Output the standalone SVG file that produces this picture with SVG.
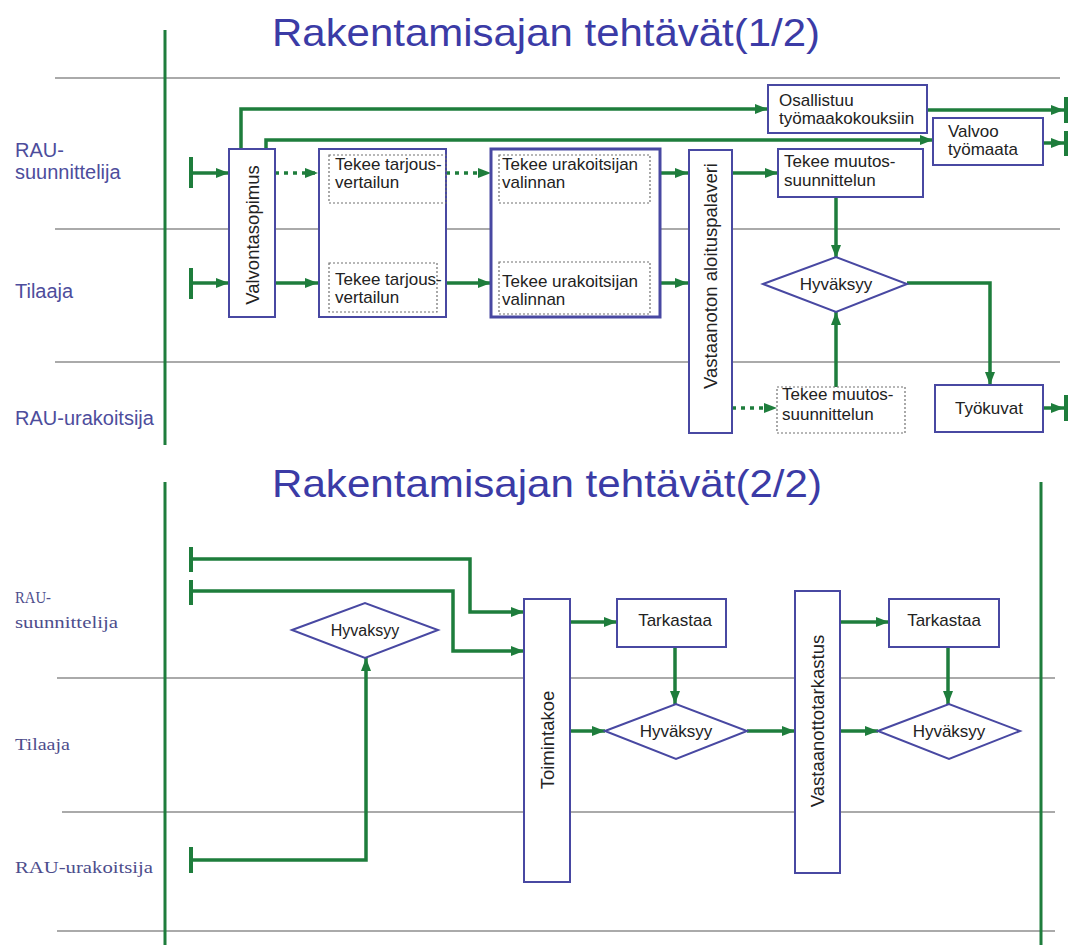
<svg xmlns="http://www.w3.org/2000/svg" width="1070" height="945" viewBox="0 0 1070 945">
<defs>
<marker id="ah" markerUnits="userSpaceOnUse" markerWidth="13" markerHeight="11" refX="13" refY="5.5" orient="auto">
<path d="M0,0.5 L13,5.5 L0,10.5 z" fill="#1e7d3c"/>
</marker>
<style>
.title{font-family:"Liberation Sans",Arial,sans-serif;font-size:39px;fill:#3b3ba6}
.lane{stroke:#8e8e8e;stroke-width:1.6;fill:none}
.vl{stroke:#1e7d3c;stroke-width:3;fill:none}
.lbl{font-family:"Liberation Sans",Arial,sans-serif;font-size:20px;fill:#4d4d9c}
.lbls{font-family:"Liberation Serif","Times New Roman",serif;font-size:17px;fill:#4d4d8c}
.c{stroke:#1e7d3c;stroke-width:3.5;fill:none}
.ca{stroke:#1e7d3c;stroke-width:3.5;fill:none;marker-end:url(#ah)}
.cd{stroke:#1e7d3c;stroke-width:3.5;fill:none;stroke-dasharray:4 5;marker-end:url(#ah)}
.bar{stroke:#1e7d3c;stroke-width:4;fill:none}
.box{fill:#fff;stroke:#4848a2;stroke-width:2}
.boxb{fill:#fff;stroke:#4848a2;stroke-width:3}
.inner{fill:none;stroke:#707070;stroke-width:1.2;stroke-dasharray:2 2}
.t{font-family:"Liberation Sans",Arial,sans-serif;font-size:17px;fill:#222}
.tv{font-family:"Liberation Sans",Arial,sans-serif;font-size:18.5px;fill:#222;text-anchor:middle}
.tm{font-family:"Liberation Sans",Arial,sans-serif;font-size:17px;fill:#222;text-anchor:middle}
</style>
</defs>
<rect width="1070" height="945" fill="#fff"/>

<g id="titles">
<text class="title" x="272" y="46" textLength="548" lengthAdjust="spacingAndGlyphs">Rakentamisajan tehtävät(1/2)</text>
<text class="title" x="272" y="497" textLength="550" lengthAdjust="spacingAndGlyphs">Rakentamisajan tehtävät(2/2)</text>
</g>

<g id="lanes">
<line class="lane" x1="55" y1="78" x2="1060" y2="78"/>
<line class="lane" x1="55" y1="229" x2="1060" y2="229"/>
<line class="lane" x1="55" y1="362" x2="1060" y2="362"/>
<line class="lane" x1="57" y1="678" x2="1055" y2="678"/>
<line class="lane" x1="62" y1="812" x2="1055" y2="812"/>
<line class="lane" x1="57" y1="931" x2="1055" y2="931"/>
<line class="vl" x1="165" y1="30" x2="165" y2="445"/>
<line class="vl" x1="165" y1="482" x2="165" y2="945"/>
<line class="vl" x1="1041" y1="482" x2="1041" y2="945"/>
</g>

<g id="lane-labels">
<text class="lbl" x="15" y="157">RAU-</text>
<text class="lbl" x="15" y="179">suunnittelija</text>
<text class="lbl" x="15" y="298">Tilaaja</text>
<text class="lbl" x="15" y="425">RAU-urakoitsija</text>
<text class="lbls" x="15" y="603" textLength="36" lengthAdjust="spacingAndGlyphs">RAU-</text>
<text class="lbls" x="15" y="628" textLength="103" lengthAdjust="spacingAndGlyphs">suunnittelija</text>
<text class="lbls" x="15" y="750" textLength="55" lengthAdjust="spacingAndGlyphs">Tilaaja</text>
<text class="lbls" x="15" y="873" textLength="138" lengthAdjust="spacingAndGlyphs">RAU-urakoitsija</text>
</g>

<g id="connectors">
<line class="bar" x1="191" y1="157" x2="191" y2="188"/>
<path class="ca" d="M191,173 H229"/>
<line class="bar" x1="191" y1="268" x2="191" y2="299"/>
<path class="ca" d="M191,283 H229"/>
<path class="ca" d="M241,149 V109 H768"/>
<path class="ca" d="M266,149 V140 H933"/>
<path class="ca" d="M927,110 H1064"/>
<line class="bar" x1="1066" y1="97" x2="1066" y2="123"/>
<path class="ca" d="M1043,143 H1064"/>
<line class="bar" x1="1066" y1="131" x2="1066" y2="156"/>
<path class="cd" d="M275,173 H318"/>
<path class="ca" d="M275,283 H318"/>
<path class="cd" d="M446,173 H491"/>
<path class="ca" d="M437,283 H491"/>
<path class="ca" d="M660,173 H688"/>
<path class="ca" d="M660,283 H688"/>
<path class="ca" d="M732,173 H778"/>
<path class="ca" d="M836,197 V258"/>
<path class="ca" d="M836,387 V312"/>
<path class="ca" d="M907,283 H990 V385"/>
<path class="cd" d="M732,408 H777"/>
<path class="ca" d="M1043,408 H1064"/>
<line class="bar" x1="1066" y1="395" x2="1066" y2="421"/>

<line class="bar" x1="191" y1="547" x2="191" y2="572"/>
<line class="bar" x1="191" y1="580" x2="191" y2="605"/>
<path class="ca" d="M191,559 H470 V612 H524"/>
<path class="ca" d="M191,591 H453 V651 H524"/>
<line class="bar" x1="191" y1="847" x2="191" y2="873"/>
<path class="ca" d="M191,860 H366 V658"/>
<path class="ca" d="M570,622 H617"/>
<path class="ca" d="M675,647 V704"/>
<path class="ca" d="M570,731 H605"/>
<path class="ca" d="M747,731 H795"/>
<path class="ca" d="M840,622 H889"/>
<path class="ca" d="M948,647 V704"/>
<path class="ca" d="M840,731 H878"/>
</g>

<g id="valvontasopimus">
<rect class="box" x="229" y="149" width="46" height="168"/>
<text class="tv" transform="translate(252,235) rotate(-90)" x="0" y="6.5">Valvontasopimus</text>
</g>

<g id="tarjousvertailu">
<rect class="box" x="319" y="149" width="127" height="168"/>
<rect class="inner" x="329" y="155" width="117" height="48"/>
<text class="t" x="335" y="170">Tekee tarjous-</text>
<text class="t" x="335" y="188">vertailun</text>
<rect class="inner" x="329" y="263" width="108" height="49"/>
<text class="t" x="335" y="285">Tekee tarjous-</text>
<text class="t" x="335" y="303">vertailun</text>
</g>

<g id="urakoitsijan-valinta">
<rect class="boxb" x="491" y="149" width="169" height="168"/>
<rect class="inner" x="499" y="155" width="151" height="48"/>
<text class="t" x="502" y="170">Tekee urakoitsijan</text>
<text class="t" x="502" y="188">valinnan</text>
<rect class="inner" x="499" y="262" width="151" height="52"/>
<text class="t" x="502" y="287">Tekee urakoitsijan</text>
<text class="t" x="502" y="305">valinnan</text>
</g>

<g id="aloituspalaveri">
<rect class="box" x="689" y="150" width="43" height="283"/>
<text class="tv" transform="translate(710,276) rotate(-90)" x="0" y="6.5">Vastaanoton aloituspalaveri</text>
</g>

<g id="osallistuu">
<rect class="box" x="768" y="85" width="159" height="48"/>
<text class="t" x="779" y="106">Osallistuu</text>
<text class="t" x="779" y="124">työmaakokouksiin</text>
</g>

<g id="valvoo">
<rect class="box" x="933" y="118" width="110" height="47"/>
<text class="t" x="948" y="137">Valvoo</text>
<text class="t" x="948" y="155">työmaata</text>
</g>

<g id="muutos-suunnittelu">
<rect class="box" x="778" y="149" width="145" height="48"/>
<text class="t" x="784" y="167">Tekee muutos-</text>
<text class="t" x="784" y="186">suunnittelun</text>
</g>

<g id="hyvaksyy-top">
<polygon class="box" points="763,284 836,257 907,284 836,312"/>
<text class="tm" x="836" y="290">Hyväksyy</text>
</g>

<g id="muutos-urakoitsija">
<rect class="inner" x="777" y="387" width="128" height="46"/>
<text class="t" x="782" y="400">Tekee muutos-</text>
<text class="t" x="782" y="420">suunnittelun</text>
</g>

<g id="tyokuvat">
<rect class="box" x="935" y="385" width="108" height="47"/>
<text class="tm" x="989" y="414">Työkuvat</text>
</g>

<g id="hyvaksyy-1">
<polygon class="box" points="292,630 365,603 438,630 365,658"/>
<text class="tm" x="365" y="636" style="font-size:16px">Hyvaksyy</text>
</g>

<g id="toimintakoe">
<rect class="box" x="524" y="599" width="46" height="283"/>
<text class="tv" transform="translate(547,740) rotate(-90)" x="0" y="6.5">Toimintakoe</text>
</g>

<g id="tarkastaa-1">
<rect class="box" x="617" y="599" width="109" height="48"/>
<text class="tm" x="675" y="626">Tarkastaa</text>
</g>

<g id="hyvaksyy-2">
<polygon class="box" points="605,731 676,704 747,731 676,759"/>
<text class="tm" x="676" y="737">Hyväksyy</text>
</g>

<g id="vastaanottotarkastus">
<rect class="box" x="795" y="591" width="45" height="282"/>
<text class="tv" transform="translate(817,721) rotate(-90)" x="0" y="6.5">Vastaanottotarkastus</text>
</g>

<g id="tarkastaa-2">
<rect class="box" x="889" y="599" width="110" height="48"/>
<text class="tm" x="944" y="626">Tarkastaa</text>
</g>

<g id="hyvaksyy-3">
<polygon class="box" points="878,731 949,704 1020,731 949,759"/>
<text class="tm" x="949" y="737">Hyväksyy</text>
</g>
</svg>
